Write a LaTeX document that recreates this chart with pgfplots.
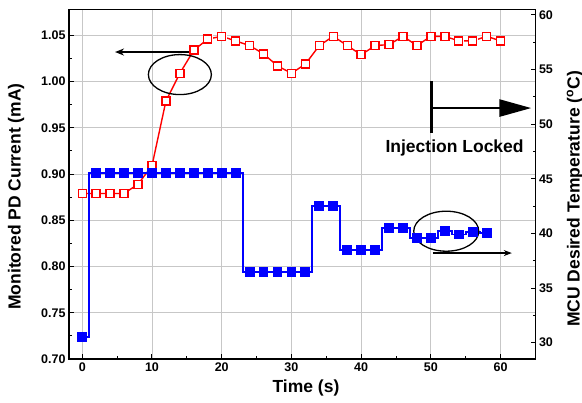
\documentclass[border=0pt]{standalone}
\usepackage{pgfplots}
\pgfplotsset{compat=1.18}
\usepackage{fontspec}
\setmainfont{Liberation Sans}
\usetikzlibrary{arrows.meta}

\pgfplotstableread{
x y
0 0.879
2 0.879
4 0.879
6 0.879
8 0.889
10 0.909
12 0.979
14 1.009
16 1.034
18 1.046
20 1.049
22 1.044
24 1.039
26 1.030
28 1.017
30 1.009
32 1.019
34 1.039
36 1.049
38 1.039
40 1.029
42 1.039
44 1.040
46 1.049
48 1.039
50 1.049
52 1.049
54 1.044
56 1.044
58 1.049
60 1.044
}\pdcurrent

\pgfplotstableread{
x y
0 30.5
2 45.5
4 45.5
6 45.5
8 45.5
10 45.5
12 45.5
14 45.5
16 45.5
18 45.5
20 45.5
22 45.5
24 36.5
26 36.5
28 36.5
30 36.5
32 36.5
34 42.5
36 42.5
38 38.5
40 38.5
42 38.5
44 40.5
46 40.5
48 39.6
50 39.6
52 40.2
54 39.9
56 40.1
58 40.0
}\mcutemp

\begin{document}
\begin{tikzpicture}
\path[use as bounding box] (-69pt,-44pt) rectangle (513pt,359pt);
\begin{axis}[
  scale only axis, width=466.5pt, height=349.5pt,
  xmin=-1.9, xmax=65, ymin=0.70, ymax=1.078,
  xtick={0,10,20,30,40,50,60}, minor x tick num=1,
  ytick={0.70,0.75,0.80,0.85,0.90,0.95,1.00,1.05}, minor y tick num=1,
  xtick pos=bottom, ytick pos=left,
  tick align=inside, major tick length=5pt, minor tick length=3pt,
  tick style={black, line width=1pt},
  grid=major, major grid style={black!22, line width=0.9pt},
  axis line style={line width=1.2pt},
  /pgf/number format/assume math mode=true,
  yticklabel style={/pgf/number format/.cd, fixed, fixed zerofill, precision=2},
  tick label style={font=\bfseries\fontsize{12.5}{12.5}\selectfont},
  xlabel={Time (s)},
  ylabel={Monitored PD Current (mA)},
  label style={font=\bfseries\fontsize{17.5}{17.5}\selectfont},
  xlabel style={at={(axis description cs:0.508,-0.083)}, anchor=center},
  ylabel style={at={(axis description cs:-0.1136,0.465)}, anchor=center},
]
\addplot[red, line width=1.4pt] table[x=x,y=y] {\pdcurrent};
\addplot[white, only marks, mark=square*, mark size=4pt] table[x=x,y=y] {\pdcurrent};
\addplot[red, only marks, mark=square, mark size=4pt, line width=1.4pt] table[x=x,y=y] {\pdcurrent};
\draw[line width=1.3pt] (axis cs:14,1.0076) ellipse [x radius=31.5pt, y radius=20pt];
\draw[line width=1.3pt, -{Stealth[length=9pt,width=7pt]}] (axis cs:16,1.032) -- (axis cs:4.7,1.032);
\draw[line width=2.6pt] (axis cs:50.1,1.0003) -- (axis cs:50.1,0.944);
\draw[line width=2.6pt, -{Triangle[length=32pt,width=17pt]}] (axis cs:50.1,0.9714) -- (axis cs:64.4,0.9714);
\node[anchor=base, font=\bfseries\fontsize{17.5}{17.5}\selectfont] at (axis cs:53.4,0.9232) {Injection Locked};
\end{axis}
\begin{axis}[
  scale only axis, width=466.5pt, height=349.5pt,
  xmin=-1.9, xmax=65, ymin=28.5, ymax=60.5,
  axis y line*=right, axis x line=none,
  ytick={30,35,40,45,50,55,60}, minor y tick num=1,
  tick align=inside, major tick length=5pt, minor tick length=3pt,
  tick style={black, line width=1pt},
  axis line style={line width=1.2pt},
  /pgf/number format/assume math mode=true,
  tick label style={font=\bfseries\fontsize{12.5}{12.5}\selectfont},
  ylabel={MCU Desired Temperature (\textsuperscript{o}C)},
  label style={font=\bfseries\fontsize{17.5}{17.5}\selectfont},
  ylabel style={at={(axis description cs:1.0847,0.458)}, anchor=center},
]
\addplot[blue, line width=1.8pt, const plot mark mid, mark=square*, mark size=4pt,
  mark options={solid, draw=blue, fill=blue}] table[x=x,y=y] {\mcutemp};
\draw[line width=1.3pt] (axis cs:52.2,40.2) ellipse [x radius=32.5pt, y radius=20pt];
\draw[line width=1.3pt, -{Stealth[length=8pt,width=6pt]}] (axis cs:50.3,38.2) -- (axis cs:61.6,38.2);
\end{axis}
\end{tikzpicture}
\end{document}
